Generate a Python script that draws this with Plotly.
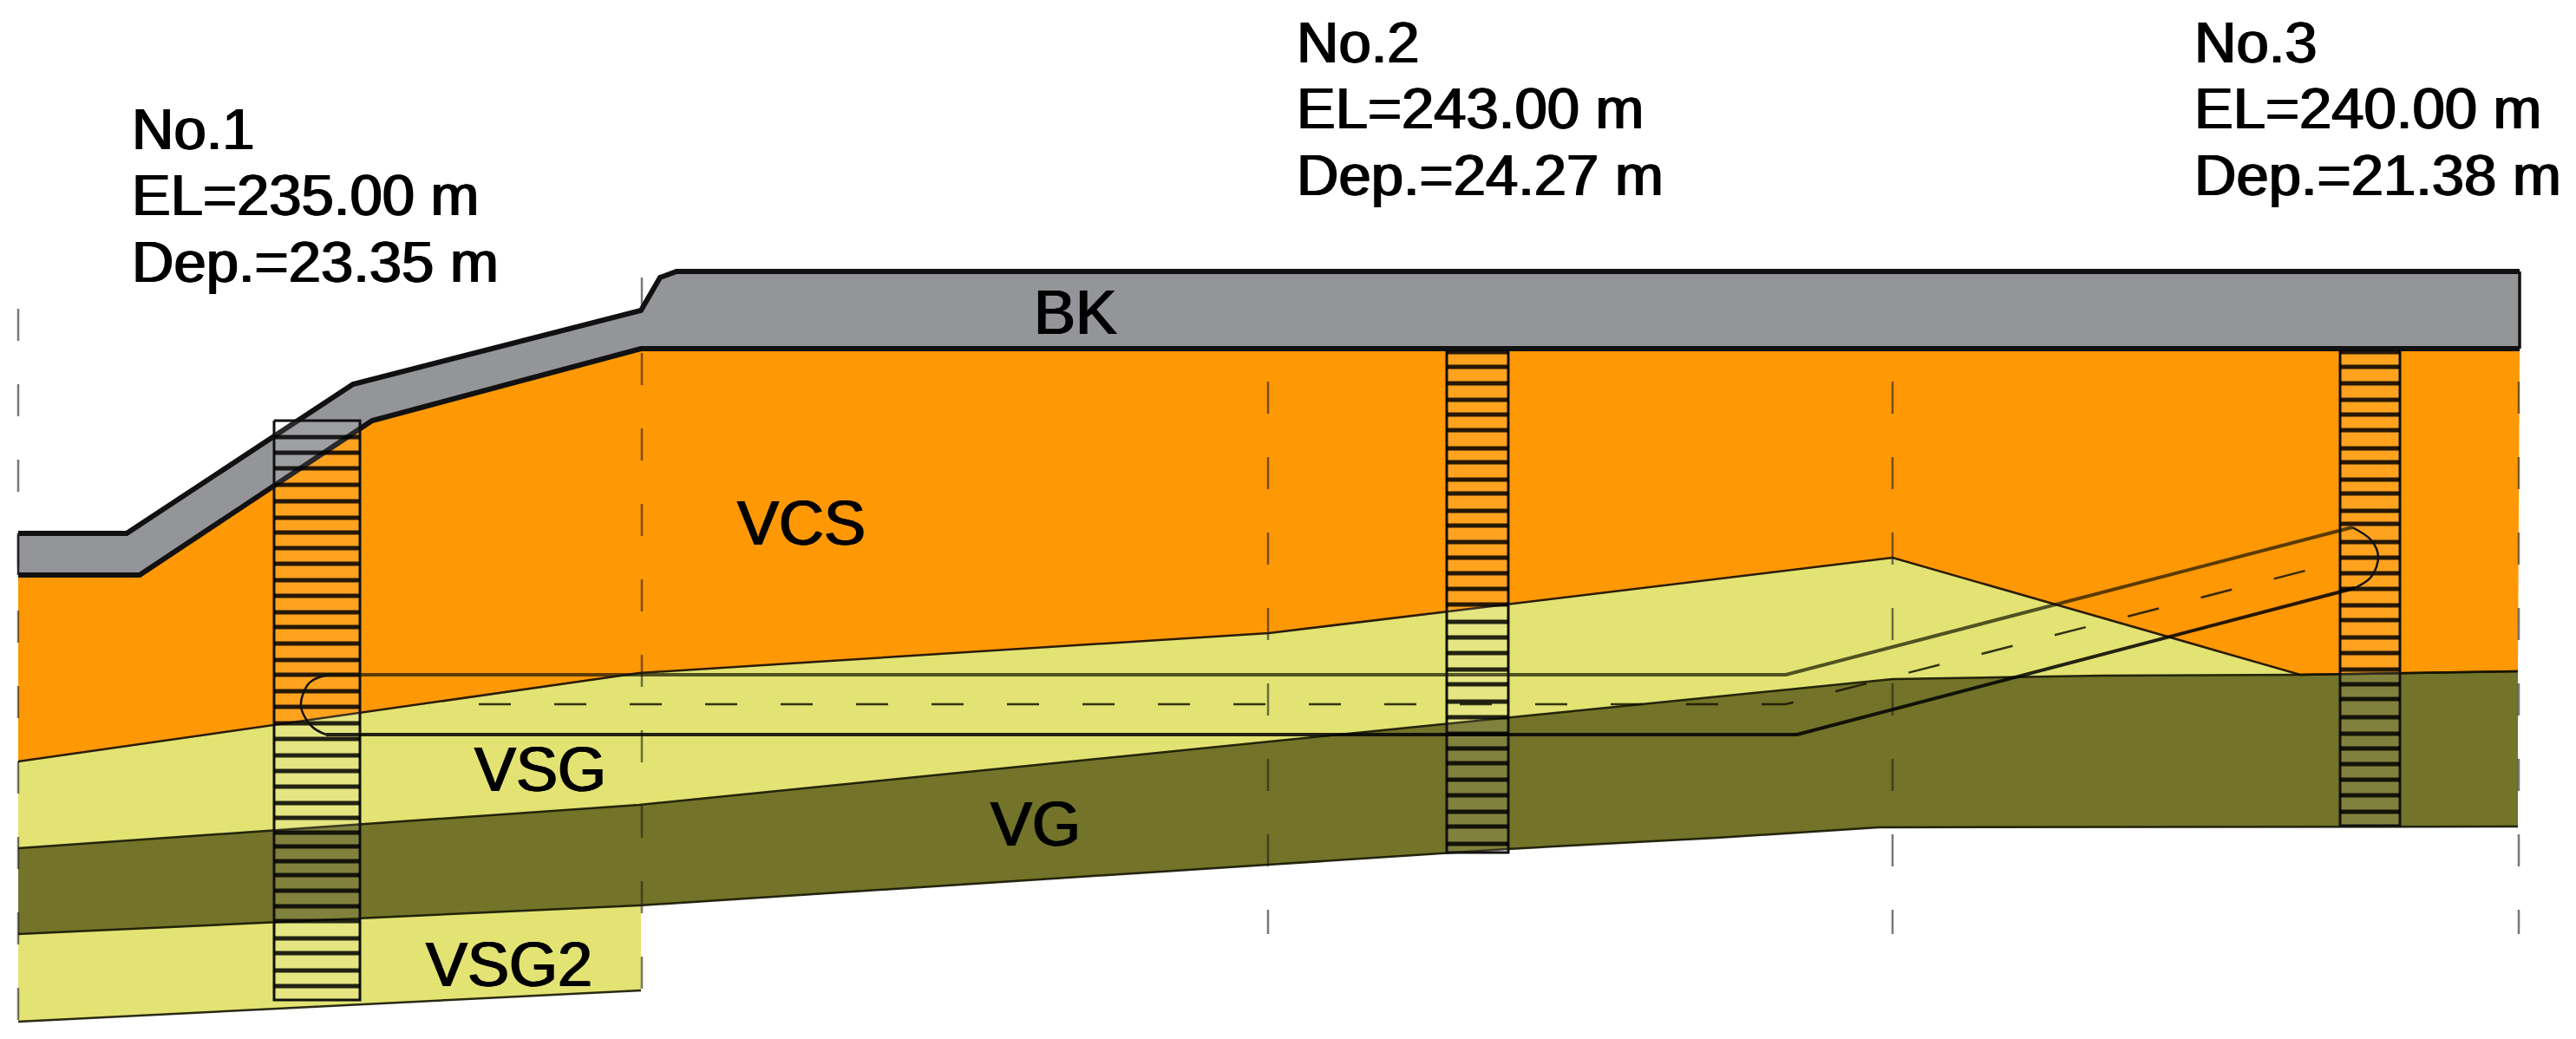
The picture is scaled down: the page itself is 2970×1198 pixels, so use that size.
import plotly.graph_objects as go

# section geometry (x along section, y downwards)
bk_top_x = [21, 146, 407, 739, 761, 780, 2905]
bk_top_y = [615, 615, 443, 358, 320, 313, 313]
bk_base_x = [21, 161, 429, 739, 2905]
bk_base_y = [663, 663, 485, 402, 402]
vcs_base_x = [21, 737, 1463, 2182, 2652, 2903]
vcs_base_y = [878, 776, 730, 643, 778, 774]
vsg_base_x = [21, 737, 2182, 2422, 2652, 2903]
vsg_base_y = [978, 928, 783, 779, 778, 774]
vg_base_x = [21, 737, 1463, 1738, 1980, 2166, 2903]
vg_base_y = [1077, 1044, 997, 979, 966, 954, 953]
vsg2_x = [21, 739, 739, 21]
vsg2_y = [1077, 1044, 1142, 1178]

# section lines
section_x = [21, 740, 1462, 2182, 2904]
section_top = [356, 320, 440, 440, 440]
section_bottom = [1178, 1142, 1077, 1077, 1077]

# boreholes
bore_names = ["No.1", "No.2", "No.3"]
bore_el = ["EL=235.00 m", "EL=243.00 m", "EL=240.00 m"]
bore_dep = ["Dep.=23.35 m", "Dep.=24.27 m", "Dep.=21.38 m"]
bore_label_x = [150, 1493, 2528]
bore_label_base = [172, 72, 72]
bore_left = [316, 1668, 2698]
bore_right = [415, 1739, 2767]
bore_top = [485, 402, 402]
bore_bottom = [1153, 983, 952]
bore1_bands = [504, 522, 540, 559, 578, 597, 614, 632, 650, 669, 687, 706, 723, 742, 761, 778,
               797, 815, 834, 852, 871, 889, 907, 926, 943, 960, 976, 993, 1009, 1027, 1045,
               1062, 1082, 1099, 1119, 1137]
bore2_bands = [406, 423, 442, 461, 478, 496, 517, 533, 553, 569, 589, 606, 625, 643, 661, 679,
               697, 717, 735, 753, 772, 789, 809, 827, 846, 863, 880, 899, 917, 936, 953, 973]
bore3_bands = [406, 423, 442, 461, 478, 496, 517, 533, 553, 569, 589, 604, 625, 643, 661, 679,
               698, 715, 735, 753, 772, 789, 806, 827, 846, 863, 881, 899, 917, 936]

# tunnel
tunnel_top_x = [379, 2059, 2712]
tunnel_top_y = [778, 778, 608]
tunnel_bottom_x = [376, 2072, 2715]
tunnel_bottom_y = [847, 847, 678]
tunnel_axis_x = [552, 2059, 2697]
tunnel_axis_y = [812, 812, 648]
end_left_x = [379, 357, 347, 360, 376]
end_left_y = [778, 787, 814, 838, 847]
end_right_x = [2712, 2734, 2742, 2734, 2715]
end_right_y = [608, 623, 642, 665, 678]

layer_names = ["BK", "VCS", "VSG", "VG", "VSG2"]
layer_label_x = [1240, 924, 623, 1194, 587]
layer_label_y = [360, 603, 887, 950, 1112]

GREY = "#949599"
ORANGE = "#FF9805"
YELLOW = "#E2E373"
OLIVE = "#737329"
FONT = "Liberation Sans"
HEAVY = "1px 0 0 black, -1px 0 0 black"

fig = go.Figure()


def polygon(x, y, color):
    fig.add_trace(go.Scatter(x=x, y=y, mode="lines", fill="toself", fillcolor=color,
                             line=dict(width=0), hoverinfo="skip"))


def line(x, y, width=2.5, color="black", dash=None, shape="linear"):
    fig.add_trace(go.Scatter(x=x, y=y, mode="lines", hoverinfo="skip",
                             line=dict(color=color, width=width, dash=dash, shape=shape)))


polygon(vsg2_x, vsg2_y, YELLOW)
polygon(vsg_base_x + vg_base_x[::-1], vsg_base_y + vg_base_y[::-1], OLIVE)
polygon(vcs_base_x + vsg_base_x[::-1], vcs_base_y + vsg_base_y[::-1], YELLOW)
polygon(bk_base_x + vcs_base_x[::-1], bk_base_y + vcs_base_y[::-1], ORANGE)
polygon(bk_top_x + bk_base_x[::-1], bk_top_y + bk_base_y[::-1], GREY)

# layer boundaries
line(vcs_base_x, vcs_base_y, 2.5, "rgba(20,10,0,0.9)")
line(vsg_base_x, vsg_base_y, 2.5, "rgba(20,20,0,0.9)")
line(vg_base_x, vg_base_y, 2.5, "rgba(20,20,0,0.9)")
line(vsg2_x[2:], vsg2_y[2:], 2.5, "rgba(20,20,0,0.9)")

# dashed section lines
for x, top, bottom in zip(section_x, section_top, section_bottom):
    line([x, x], [top, bottom], 2.5, "rgba(30,30,30,0.6)", dash="37px,50px")

# outline of the BK fill, heavy along top and base, thin at the ends
line(bk_top_x, bk_top_y, 6, "#111111")
line(bk_base_x, bk_base_y, 6, "#111111")
line([bk_top_x[0], bk_base_x[0]], [bk_top_y[0], bk_base_y[0]], 2.5, "#222222")
line([bk_top_x[-1], bk_base_x[-1]], [bk_top_y[-1], bk_base_y[-1]], 3.5, "#111111")

# boreholes
for left, right, top, bottom, bands in zip(bore_left, bore_right, bore_top, bore_bottom,
                                           [bore1_bands, bore2_bands, bore3_bands]):
    fig.add_trace(go.Scatter(x=[left, right, right, left, left], y=[top, top, bottom, bottom, top],
                             mode="lines", fill="toself", fillcolor="rgba(255,255,255,0.1)",
                             line=dict(color="#111111", width=3), hoverinfo="skip"))
    xs, ys = [], []
    for b in bands:
        xs += [left, right, None]
        ys += [b, b, None]
    line(xs, ys, 5, "rgba(0,0,0,0.85)")

# tunnel
line(tunnel_top_x, tunnel_top_y, 4, "rgba(20,20,0,0.7)")
line(tunnel_bottom_x, tunnel_bottom_y, 4, "rgba(0,0,0,0.85)")
line(tunnel_axis_x, tunnel_axis_y, 2.5, "rgba(20,20,0,0.85)", dash="37px,50px")
line(end_left_x, end_left_y, 2.5, "#111111", shape="spline")
line(end_right_x, end_right_y, 2.5, "#111111", shape="spline")

# borehole captions, one annotation per line to keep the line spacing tight
for i in range(3):
    for j, text in enumerate([bore_names[i], bore_el[i], bore_dep[i]]):
        fig.add_annotation(x=bore_label_x[i], y=bore_label_base[i] + j * 76.5 - 24, text=text,
                           xanchor="left", yanchor="middle", showarrow=False,
                           font=dict(family=FONT, size=67, color="black", shadow=HEAVY))

for name, x, y in zip(layer_names, layer_label_x, layer_label_y):
    fig.add_annotation(x=x, y=y, text=name, xanchor="center", yanchor="middle", showarrow=False,
                       font=dict(family=FONT, size=72, color="black", shadow=HEAVY))

fig.update_layout(
    width=2970, height=1198,
    margin=dict(l=0, r=0, t=0, b=0),
    paper_bgcolor="white", plot_bgcolor="white",
    showlegend=False,
)
fig.update_xaxes(visible=False, range=[0, 2970])
fig.update_yaxes(visible=False, range=[1198, 0])

fig.write_html("out.html", config=dict(displayModeBar=False),
               post_script="document.body.style.margin='0';")
